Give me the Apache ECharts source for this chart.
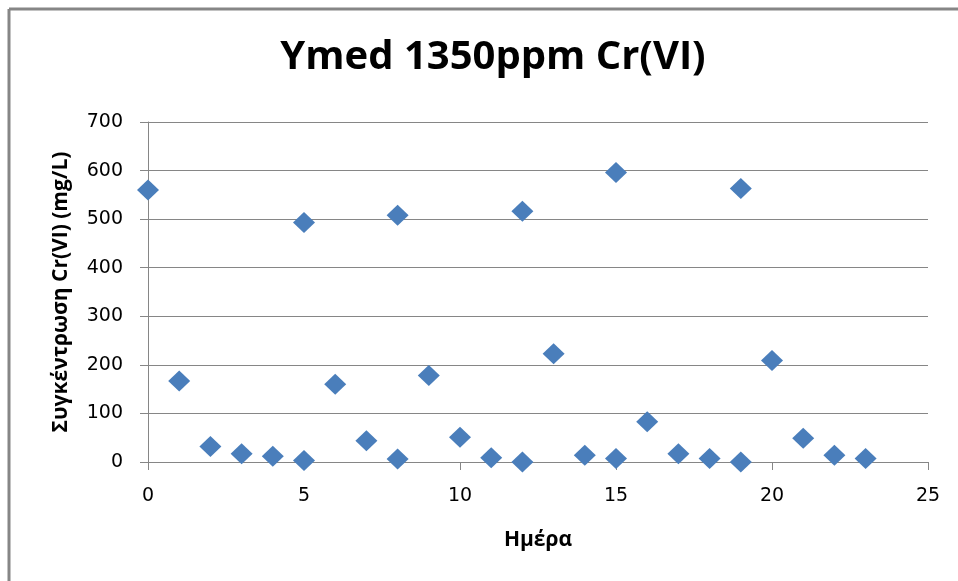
<!DOCTYPE html>
<html>
<head>
<meta charset="utf-8">
<script src="https://cdn.jsdelivr.net/npm/echarts@6/dist/echarts.min.js"></script>
<style>html,body{margin:0;padding:0;background:#fff;}#c{width:958px;height:581px;}</style>
</head>
<body>
<div id="c"></div>
<script>
const titleText = 'Ymed 1350ppm Cr(VI)';
const xName = 'Ημέρα';
const yName = 'Συγκέντρωση Cr(VI) (mg/L)';
const days = [0, 1, 2, 3, 4, 5, 5, 6, 7, 8, 8, 9, 10, 11, 12, 12, 13, 14, 15, 15, 16, 17, 18, 19, 19, 20, 21, 22, 23];
const conc = [560, 167, 32, 17, 12, 3, 493, 160, 44, 6, 508, 178, 51, 9, 0, 516, 223, 14, 7, 596, 83, 17, 7, 0, 563, 209, 49, 14, 7];
const xTicks = {min: 0, max: 25, interval: 5};
const yTicks = {min: 0, max: 700, interval: 100};

const chart = echarts.init(document.getElementById('c'));
const font = '"Open Sans", sans-serif';
const tickFont = '"DejaVu Sans", sans-serif';
chart.setOption({
  animation: false,
  backgroundColor: '#fff',
  title: {
    text: titleText, left: 488, top: 33, textAlign: 'center',
    textStyle: {fontFamily: font, fontWeight: 'bold', fontSize: 40, color: '#000'}
  },
  graphic: [
    {type: 'line', shape: {x1: 9, y1: 9, x2: 958, y2: 9}, style: {stroke: '#868686', lineWidth: 3}},
    {type: 'line', shape: {x1: 9, y1: 9, x2: 9, y2: 581}, style: {stroke: '#868686', lineWidth: 3}}
  ],
  grid: {left: 148, top: 122, right: 30, bottom: 119, containLabel: false},
  xAxis: {
    type: 'value', min: xTicks.min, max: xTicks.max, interval: xTicks.interval,
    name: xName, nameLocation: 'middle', nameGap: 68,
    nameTextStyle: {fontFamily: font, fontWeight: 'bold', fontSize: 21, color: '#000'},
    axisLine: {show: true, lineStyle: {color: '#868686', width: 1}},
    axisTick: {show: true, length: 8, lineStyle: {color: '#868686'}},
    axisLabel: {fontFamily: tickFont, fontSize: 19, color: '#000', margin: 25},
    splitLine: {show: false}
  },
  yAxis: {
    type: 'value', min: yTicks.min, max: yTicks.max, interval: yTicks.interval,
    name: yName, nameLocation: 'middle', nameGap: 76, nameRotate: 90,
    nameTextStyle: {fontFamily: font, fontWeight: 'bold', fontSize: 21, color: '#000'},
    axisLine: {show: true, lineStyle: {color: '#868686', width: 1}},
    axisTick: {show: true, length: 8, lineStyle: {color: '#868686'}},
    axisLabel: {fontFamily: tickFont, fontSize: 19, color: '#000', margin: 25},
    splitLine: {show: true, lineStyle: {color: '#868686', width: 1}}
  },
  series: [{
    type: 'scatter', symbol: 'diamond', symbolSize: [22, 21],
    itemStyle: {color: '#4A7EBB', opacity: 1},
    data: days.map((d, i) => [d, conc[i]])
  }]
});
</script>
</body>
</html>
